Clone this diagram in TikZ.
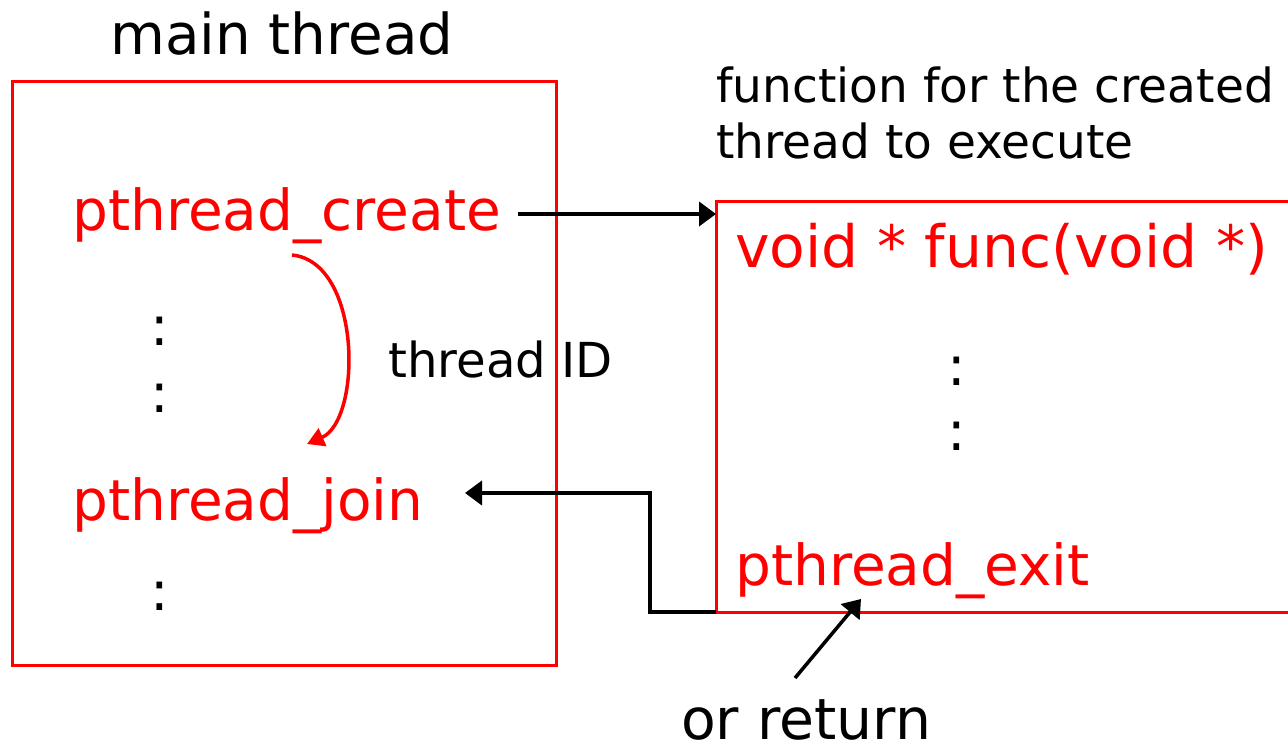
\documentclass[tikz,border=0pt]{standalone}
\usepackage{fontspec}
\setmainfont{DejaVu Sans}
\usetikzlibrary{arrows.meta}
\definecolor{codered}{RGB}{255,0,0}
\tikzset{
  box/.style={draw=codered, line width=3pt},
  code/.style={text=codered, anchor=base west, inner sep=0pt, font=\fontsize{56.5}{60}\selectfont},
  big/.style={anchor=base west, inner sep=0pt, font=\fontsize{56.3}{60}\selectfont},
  small/.style={anchor=base west, inner sep=0pt, font=\fontsize{47}{55}\selectfont},
  dots/.style={anchor=base, inner sep=0pt, font=\fontsize{55}{60}\selectfont},
  flow/.style={line width=4pt, -{Triangle[length=17pt,width=24pt]}},
  idflow/.style={draw=codered, line width=3.5pt, -{Triangle[length=17pt,width=19pt]}}
}
\begin{document}
\begin{tikzpicture}[x=1pt,y=-1pt]
\useasboundingbox (0,0) rectangle (1288,749);
\begin{scope}
\clip (0,0) rectangle (1288,749);

% main thread box
\draw[box] (12,82) rectangle (556,665);
\node[big] (mainlbl) at (110,55) {main thread};
\node[code] (create) at (72,230) {pthread\_create};
\node[dots] (d1) at (160,345) {:};
\node[dots] (d2) at (160,412) {:};
\node[code] (join) at (72,520) {pthread\_join};
\node[dots] (d3) at (160,610) {:};

% thread function box, open at the right
\draw[box] (1300,201) -- (716,201) -- (716,612) -- (1300,612);
\coordinate (fleft) at (716,214);
\coordinate (fbl) at (716,612);
\node[small] (desc1) at (716,103) {function for the created};
\node[small] (desc2) at (716,158) {thread to execute};
\node[code, font=\fontsize{58.3}{62}\selectfont] (func) at (735,267) {void * func(void *)};
\node[dots] (d4) at (957,385) {:};
\node[dots] (d5) at (957,450) {:};
\node[code] (exit) at (735,585) {pthread\_exit};

\node[small, font=\fontsize{48.2}{55}\selectfont] (tid) at (388,377) {thread ID};
\node[big, font=\fontsize{56.8}{60}\selectfont] (ret) at (681,739) {or return};

% connectors
\coordinate (cstart) at (518,214);
\draw[flow] (cstart) -- (fleft);

\coordinate (jend) at (465,493);
\draw[flow] (fbl) -- (650,612) -- (650,493) -- (jend);

\coordinate (rstart) at (795,678);
\coordinate (rend) at (861,599);
\draw[flow, line width=3.5pt] (rstart) -- (rend);

\coordinate (idstart) at (292,255);
\coordinate (idend) at (307,444);
\draw[idflow] (idstart) .. controls (362,262) and (362,420) .. (idend);
\end{scope}
\end{tikzpicture}
\end{document}
